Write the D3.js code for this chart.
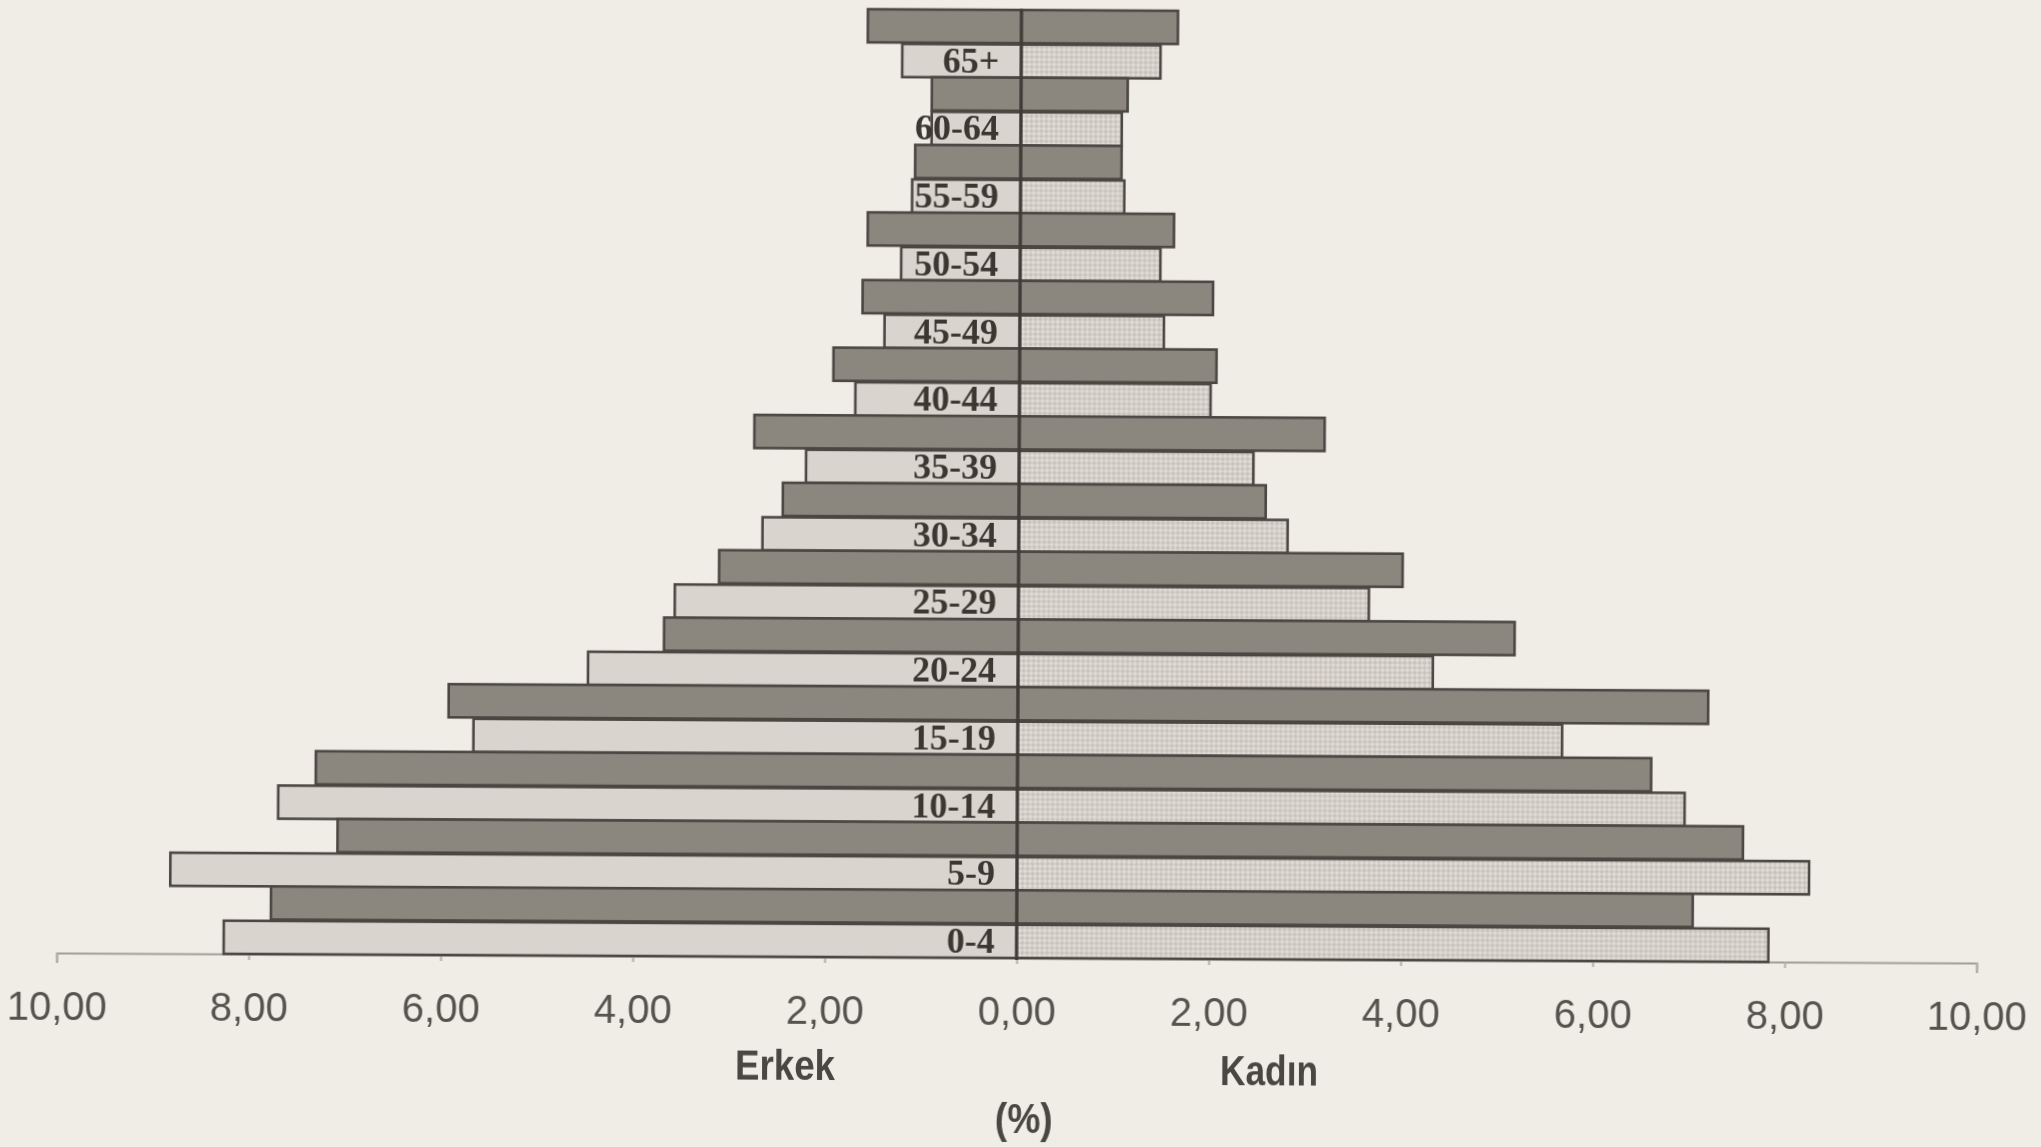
<!DOCTYPE html>
<html>
<head>
<meta charset="utf-8">
<script src="https://cdn.jsdelivr.net/npm/d3@7"></script>
<style>
    html, body { margin: 0; padding: 0; background: #f0ece6; }
    svg { display: block; }
    .tick text { font-family: "Liberation Sans", Arial, sans-serif; font-size: 40px; fill: #57534e; }
    .tick line { stroke: #b3afa8; stroke-width: 2; }
    .domain { stroke: #a29e97; stroke-width: 2; }
    .age { font-family: "Liberation Serif", "Times New Roman", serif; font-weight: bold; font-size: 36px; fill: #3b3732; }
    .title { font-family: "Liberation Sans", Arial, sans-serif; font-weight: bold; font-size: 43px; fill: #4a4743; }
</style>
</head>
<body>
<div class="pyramid"></div>
<script>
'use strict'

// Age groups, top to bottom.
const ages = ['65+', '60-64', '55-59', '50-54', '45-49', '40-44', '35-39',
              '30-34', '25-29', '20-24', '15-19', '10-14', '5-9', '0-4'];

// Erkek (left), dark and light bars, in %.
const erkekKoyu  = [1.60, 0.93, 1.10, 1.59, 1.64, 1.94, 2.76, 2.46, 3.12, 3.69, 5.93, 7.31, 7.08, 7.77];
const erkekAcik  = [1.24, 0.93, 1.13, 1.24, 1.41, 1.71, 2.22, 2.67, 3.58, 4.48, 5.67, 7.70, 8.82, 8.26];

// Kadın (right), dark and light bars, in %.
const kadinKoyu  = [1.63, 1.11, 1.05, 1.60, 2.01, 2.05, 3.18, 2.57, 4.00, 5.17, 7.19, 6.60, 7.56, 7.04];
const kadinAcik  = [1.45, 1.05, 1.08, 1.46, 1.50, 1.99, 2.44, 2.80, 3.65, 4.32, 5.67, 6.95, 8.25, 7.83];

const tickValues = [-10, -8, -6, -4, -2, 0, 2, 4, 6, 8, 10];

// Dimensions.
let width = 2041,
    height = 1147,
    center = 1019,
    unit = 96,
    yTop = 10,
    yBottom = 958;

let svg = d3.select('.pyramid')
    .append('svg')
    .attr('width', width)
    .attr('height', height);

// Crosshatch texture for the light Kadın bars.
let defs = svg.append('defs');
let pat = defs.append('pattern')
    .attr('id', 'hatch')
    .attr('patternUnits', 'userSpaceOnUse')
    .attr('width', 7)
    .attr('height', 7)
    .attr('patternTransform', 'rotate(45)');
pat.append('rect').attr('width', 7).attr('height', 7).attr('fill', '#e0dcd5');
pat.append('rect').attr('width', 3.5).attr('height', 3.5).attr('fill', '#c8c3bb');
pat.append('rect').attr('x', 3.5).attr('y', 3.5).attr('width', 3.5).attr('height', 3.5).attr('fill', '#c8c3bb');

defs.append('filter').attr('id', 'soft')
    .append('feGaussianBlur').attr('stdDeviation', 0.7);

// The scan is slightly tilted.
let g = svg.append('g')
    .attr('filter', 'url(#soft)')
    .attr('transform', `rotate(0.3, ${center}, 500)`);

// Scales.
let x = d3.scaleLinear()
    .domain([-10, 10])
    .range([center - 10 * unit, center + 10 * unit]);

let y = d3.scaleBand()
    .domain(ages)
    .range([yTop, yBottom]);

let sub = d3.scaleBand()
    .domain(['koyu', 'acik'])
    .range([0, y.bandwidth()])
    .paddingInner(0.04);

// Axis.
let xAxis = d3.axisBottom(x)
    .tickValues(tickValues)
    .tickSize(6)
    .tickPadding(33)
    .tickSizeOuter(10)
    .tickFormat(d => d3.format('.2f')(Math.abs(d)).replace('.', ','));

g.append('g')
    .attr('class', 'axis xAxis')
    .attr('transform', `translate(0, ${yBottom})`)
    .call(xAxis);

// Build rows: one record per bar.
let bars = [];
ages.forEach((a, i) => {
    bars.push({age: a, side: 'erkek', kind: 'koyu', value: erkekKoyu[i]});
    bars.push({age: a, side: 'erkek', kind: 'acik', value: erkekAcik[i]});
    bars.push({age: a, side: 'kadin', kind: 'koyu', value: kadinKoyu[i]});
    bars.push({age: a, side: 'kadin', kind: 'acik', value: kadinAcik[i]});
});

function fillOf(d) {
    if (d.kind === 'koyu') return '#8b867e';
    return d.side === 'kadin' ? 'url(#hatch)' : '#d9d5ce';
}

g.append('g')
    .attr('class', 'bars')
    .selectAll('rect')
    .data(bars)
    .join('rect')
    .attr('x', d => d.side === 'erkek' ? x(-d.value) : x(0))
    .attr('width', d => d.side === 'erkek' ? x(0) - x(-d.value) : x(d.value) - x(0))
    .attr('y', d => y(d.age) + sub(d.kind))
    .attr('height', sub.bandwidth())
    .style('fill', fillOf)
    .style('stroke', '#4b4742')
    .style('stroke-width', 2.6);

// Centre line.
g.append('line')
    .attr('x1', x(0)).attr('x2', x(0))
    .attr('y1', yTop).attr('y2', yBottom + 2)
    .style('stroke', '#3f3b37')
    .style('stroke-width', 3);

// Age labels, sitting in the light Erkek bar.
g.append('g')
    .attr('class', 'labels')
    .selectAll('text')
    .data(ages)
    .join('text')
    .attr('class', 'age')
    .attr('x', x(0) - 22)
    .attr('y', d => y(d) + sub('acik') + sub.bandwidth() - 5)
    .style('text-anchor', 'end')
    .text(d => d);

// Titles.
g.append('text').attr('class', 'title')
    .attr('x', 788).attr('y', 1081)
    .attr('text-anchor', 'middle')
    .attr('textLength', 100).attr('lengthAdjust', 'spacingAndGlyphs')
    .text('Erkek');

g.append('text').attr('class', 'title')
    .attr('x', 1272).attr('y', 1084)
    .attr('text-anchor', 'middle')
    .attr('textLength', 98).attr('lengthAdjust', 'spacingAndGlyphs')
    .text('Kadın');

g.append('text').attr('class', 'title')
    .attr('x', 1027).attr('y', 1133)
    .attr('text-anchor', 'middle')
    .attr('textLength', 58).attr('lengthAdjust', 'spacingAndGlyphs')
    .text('(%)');
</script>
</body>
</html>
